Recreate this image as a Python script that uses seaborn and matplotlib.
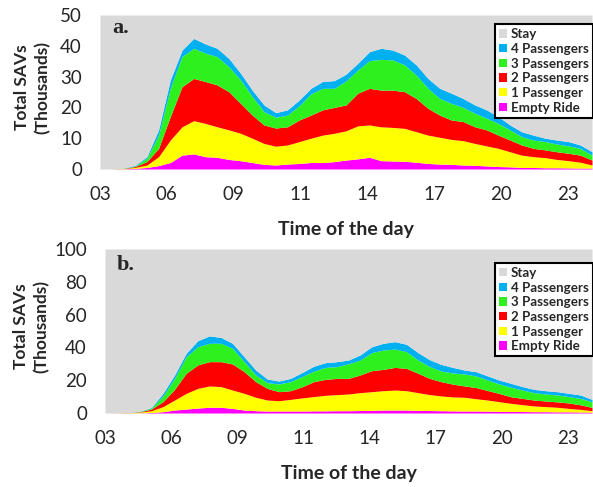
import numpy as np
import matplotlib
matplotlib.use("Agg")
import matplotlib.pyplot as plt
import seaborn as sns

# time of day (hours), half-hour steps
hours = np.arange(3, 24.01, 0.5)
tick_labels = ['03', '06', '09', '11', '14', '17', '20', '23']
tick_step = 2.853

series_names = ['Empty Ride', '1 Passenger', '2 Passengers', '3 Passengers', '4 Passengers', 'Stay']
colors = ['#FF00FF', '#FFFF00', '#FF0000', '#2EF01E', '#00B0F0', '#D9D9D9']

# panel a (thousands of SAVs)
fleet_a = 50
a_empty = [0, 0.01, 0.05, 0.2, 0.5, 1.1, 2.1, 4.5, 4.9, 4.0, 3.8, 3.1, 2.7, 2.1, 1.5, 1.3, 1.6, 1.8, 2.1, 2.1, 2.4, 2.9,
           3.3, 3.8, 2.7, 2.6, 2.5, 2.2, 1.8, 1.6, 1.5, 1.3, 1.2, 1.0, 0.8, 0.7, 0.5, 0.5, 0.4, 0.4, 0.35, 0.3, 0.3]
a_one = [0, 0.02, 0.1, 0.3, 0.8, 2.9, 7.3, 9.2, 10.8, 10.8, 9.9, 9.6, 8.9, 7.9, 6.8, 6.1, 6.2, 7.1, 7.9, 8.9, 9.2, 9.5,
         10.7, 10.5, 11.0, 10.9, 10.7, 9.9, 9.2, 8.7, 8.1, 7.9, 7.1, 6.5, 5.9, 4.9, 4.0, 3.5, 3.3, 2.7, 2.35, 1.9, 1.0]
a_two = [0, 0.01, 0.05, 0.3, 1.1, 2.7, 7.6, 13.0, 13.7, 13.6, 13.6, 12.4, 9.7, 7.5, 6.0, 5.9, 5.9, 7.0, 7.5, 8.2, 8.4, 8.4,
         10.6, 11.9, 11.9, 12.1, 11.9, 10.8, 8.7, 7.2, 6.3, 6.2, 5.4, 5.2, 4.3, 3.8, 3.3, 2.7, 2.5, 2.5, 2.4, 2.3, 1.6]
a_three = [0, 0.01, 0.05, 0.2, 1.1, 4.3, 9.2, 9.8, 9.8, 9.2, 9.2, 8.1, 7.6, 6.0, 4.3, 3.5, 3.8, 4.6, 6.9, 7.0, 6.2, 7.8,
           7.5, 9.0, 10.0, 9.8, 8.7, 7.6, 6.5, 5.4, 5.4, 4.6, 4.4, 3.8, 3.8, 3.3, 2.7, 2.7, 2.7, 2.5, 2.4, 2.2, 1.6]
a_four = [0, 0, 0.05, 0.2, 0.5, 1.7, 2.7, 2.1, 3.2, 3.0, 2.7, 2.7, 2.2, 2.1, 2.2, 1.5, 1.7, 1.9, 1.8, 2.2, 2.5, 2.2,
          2.2, 2.9, 3.6, 3.2, 3.2, 3.3, 3.2, 3.3, 3.3, 2.9, 2.7, 2.7, 2.2, 1.6, 1.6, 1.6, 1.1, 1.3, 1.4, 1.1, 1.1]

# panel b (thousands of SAVs)
fleet_b = 100
b_empty = [0, 0.02, 0.05, 0.1, 0.3, 0.8, 1.8, 2.4, 3.0, 3.5, 3.5, 2.8, 1.8, 1.4, 1.2, 1.2, 1.2, 1.2, 1.3, 1.3, 1.4, 1.4,
           1.5, 1.6, 1.8, 1.8, 1.8, 1.6, 1.5, 1.4, 1.3, 1.2, 1.2, 1.1, 1.0, 0.9, 0.9, 0.8, 0.8, 0.7, 0.7, 0.6, 0.5]
b_one = [0, 0.03, 0.15, 0.4, 1.1, 3.1, 6.1, 9.6, 12.0, 13.0, 12.6, 11.2, 10.2, 8.2, 6.7, 6.3, 7.1, 8.0, 8.7, 9.5, 9.8, 10.2,
         10.9, 11.4, 11.8, 12.2, 11.8, 10.8, 9.7, 9.0, 8.5, 8.4, 7.5, 6.8, 5.9, 5.0, 4.2, 3.5, 3.1, 2.8, 2.1, 1.6, 0.9]
b_two = [0, 0.05, 0.1, 0.2, 1.0, 3.0, 6.5, 12.2, 14.3, 14.8, 15.2, 15.9, 13.2, 9.5, 7.1, 5.5, 5.3, 6.8, 9.1, 9.7, 9.9, 9.5,
         10.8, 12.8, 13.0, 13.8, 13.6, 11.8, 9.9, 8.7, 7.8, 6.9, 6.8, 5.8, 5.0, 4.0, 3.8, 3.6, 3.4, 3.3, 3.3, 2.8, 2.0]
b_three = [0, 0, 0.05, 0.2, 0.6, 3.5, 6.7, 10.1, 11.1, 11.2, 11.2, 9.5, 6.1, 4.1, 3.5, 4.7, 5.5, 6.2, 6.4, 7.3, 7.2, 8.9,
           9.1, 11.0, 11.8, 11.2, 10.2, 8.1, 7.2, 6.5, 6.8, 7.3, 7.1, 6.4, 5.8, 5.8, 5.1, 4.5, 4.3, 4.2, 3.9, 3.9, 3.5]
b_four = [0, 0, 0.05, 0.1, 0.4, 1.6, 2.1, 2.1, 3.7, 4.5, 3.6, 3.1, 3.0, 3.0, 2.2, 1.8, 2.0, 2.5, 3.0, 2.9, 3.0, 2.3,
          3.1, 3.6, 4.1, 4.5, 4.5, 4.5, 4.2, 4.0, 3.4, 2.4, 2.6, 2.5, 2.4, 2.4, 2.1, 2.0, 2.0, 2.0, 2.0, 2.1, 1.4]


def draw_panel(ax, layers, fleet, yticks, tag, tag_y, legend_top, ylab_x):
    stay = fleet - np.sum(layers, axis=0)
    polys = ax.stackplot(hours, *layers, stay, colors=colors, linewidth=0)
    ax.set_xlim(3, 24)
    ax.set_ylim(0, fleet)
    ax.set_xticks([3 + i * tick_step for i in range(len(tick_labels))])
    ax.set_xticklabels(tick_labels)
    ax.set_yticks(yticks)
    ax.tick_params(axis='both', length=0, labelsize=13.5)
    ax.tick_params(axis='x', pad=12)
    ax.tick_params(axis='y', pad=13)
    sns.despine(ax=ax, left=True, bottom=True)
    ax.set_xlabel('Time of the day', fontsize=14, fontweight='bold', va='center')
    ax.xaxis.set_label_coords(0.5, -0.39 * 154 / (ax.get_position().height * 487))
    ax.set_ylabel('Total SAVs\n(Thousands)', fontsize=12.5, fontweight='bold',
                  va='center', ha='center', linespacing=1.35)
    ax.yaxis.set_label_coords(ylab_x, 0.53)
    ax.text(0.024, tag_y, tag, transform=ax.transAxes, fontsize=16, fontweight='bold',
            family='Liberation Serif', va='baseline')
    leg = ax.legend(polys[::-1], series_names[::-1], loc='upper right',
                    bbox_to_anchor=(1.002, legend_top), borderaxespad=0,
                    prop={'weight': 'bold', 'size': 9.6},
                    handlelength=0.6, handleheight=0.6, handletextpad=0.3,
                    labelspacing=0.2, borderpad=0.3, fancybox=False,
                    framealpha=1, edgecolor='black')
    leg.get_frame().set_linewidth(1.5)


sns.set_theme(style='white')
plt.rcParams['font.family'] = ['Lato', 'DejaVu Sans']

fig = plt.figure(figsize=(5.93, 4.87), dpi=100)
ax_a = fig.add_axes([100 / 593, 1 - 169 / 487, 492 / 593, 154 / 487])
ax_b = fig.add_axes([105 / 593, 1 - 413 / 487, 487 / 593, 164 / 487])

draw_panel(ax_a, [a_empty, a_one, a_two, a_three, a_four], fleet_a, [0, 10, 20, 30, 40, 50],
           'a.', 0.883, 0.94, -0.137)
draw_panel(ax_b, [b_empty, b_one, b_two, b_three, b_four], fleet_b, [0, 20, 40, 60, 80, 100],
           'b.', 0.872, 0.915, -0.151)

fig.savefig('out.png', dpi=100)
